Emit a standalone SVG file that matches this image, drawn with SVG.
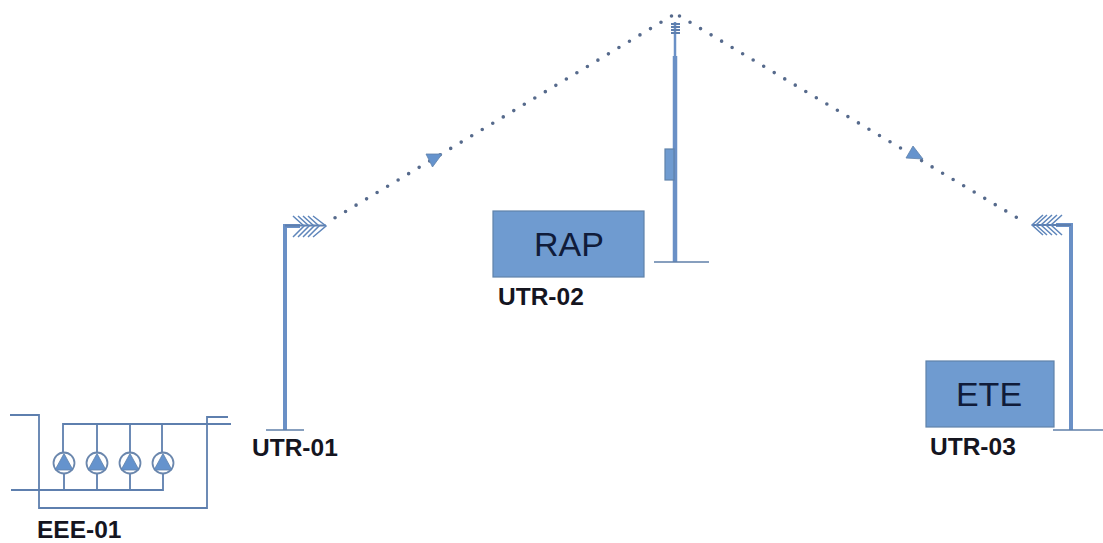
<svg xmlns="http://www.w3.org/2000/svg" width="1103" height="543" viewBox="0 0 1103 543">
<defs>
<style>
text{font-family:"Liberation Sans",Arial,sans-serif}
.lbl{font-size:24.5px;font-weight:700;fill:#15151f}
.big{font-size:34px;fill:#101c3a;text-anchor:middle}
.box{fill:#6f9bd0;stroke:#5f82aa;stroke-width:1.2}
.mast{stroke:#6a90c6;fill:none;stroke-linecap:butt}
.thin{stroke:#5f7fa8;stroke-width:1.6;fill:none}
.ln{stroke:#5e7fae;stroke-width:1.8;fill:none}
.fish{stroke:#5f86bb;stroke-width:1.5;fill:none}
.dot{stroke:#566a8c;stroke-width:3.6;stroke-linecap:round;stroke-dasharray:0 12.26;fill:none}
.tri{fill:#6593cd;stroke:#5f82aa;stroke-width:.8}
.pc{fill:#fff;stroke:#6b87ad;stroke-width:1.8}
</style>
<g id="pump">
<circle class="pc" cx="0" cy="0" r="10.5"/>
<path class="tri" d="M0-9.5 9 7H-9Z"/>
</g>
</defs>
<g id="connectors">
<path class="dot" d="M671.500 16 333 219"/>
<path class="dot" d="M679.500 16 1026 223"/>
<path class="tri" d="M426 154H442L432.500 167Z"/>
<path class="tri" d="M913 146 923 159 906 158Z"/>
</g>
<g id="utr-01">
<path class="mast" stroke-width="4" d="M285 430V226H300"/>
<path class="thin" d="M266 430H304"/>
<path class="ln" d="M285 225.500H326"/>
<path class="fish" d="M293 216 304 226 293 237M298 216 309 226 298 237M303 216 314 226 303 237M308 216 319 226 308 237M313 216 326 226 313 237"/>
<text class="lbl" x="252" y="456">UTR-01</text>
</g>
<g id="utr-02">
<rect class="box" x="493" y="211" width="151" height="66"/>
<text class="big" x="569" y="256">RAP</text>
<path class="mast" stroke-width="2.500" d="M675 22V56"/>
<path class="mast" stroke-width="4.500" d="M675 56V262"/>
<path class="ln" d="M671 24H680M671 27H680M671 30H680M671 33H680"/>
<rect class="box" x="665" y="149" width="9" height="31"/>
<path class="thin" d="M654 262H709"/>
<text class="lbl" x="498" y="305">UTR-02</text>
</g>
<g id="utr-03">
<rect class="box" x="926" y="361" width="128" height="66"/>
<text class="big" x="989" y="406">ETE</text>
<path class="mast" stroke-width="4" d="M1071 430V225H1056"/>
<path class="thin" d="M1053 430H1103"/>
<path class="ln" d="M1071 225H1032"/>
<path class="fish" d="M1062 215 1051 225 1062 235M1057 215 1046 225 1057 235M1052 215 1041 225 1052 235M1047 215 1036 225 1047 235M1043 215 1032 225 1043 235"/>
<text class="lbl" x="930" y="455">UTR-03</text>
</g>
<g id="eee-01">
<path class="ln" d="M10 415H39V508H207V417H228"/>
<path class="ln" d="M63 463V424H231"/>
<path class="ln" d="M97 424V452M130 424V452M162 424V452"/>
<path class="ln" d="M11 490H163V474M64 490V474M97 490V474M130 490V474"/>
<use href="#pump" x="64" y="463"/>
<use href="#pump" x="97" y="463"/>
<use href="#pump" x="130" y="463"/>
<use href="#pump" x="163" y="463"/>
<text class="lbl" x="37" y="537.500">EEE-01</text>
</g>
</svg>
